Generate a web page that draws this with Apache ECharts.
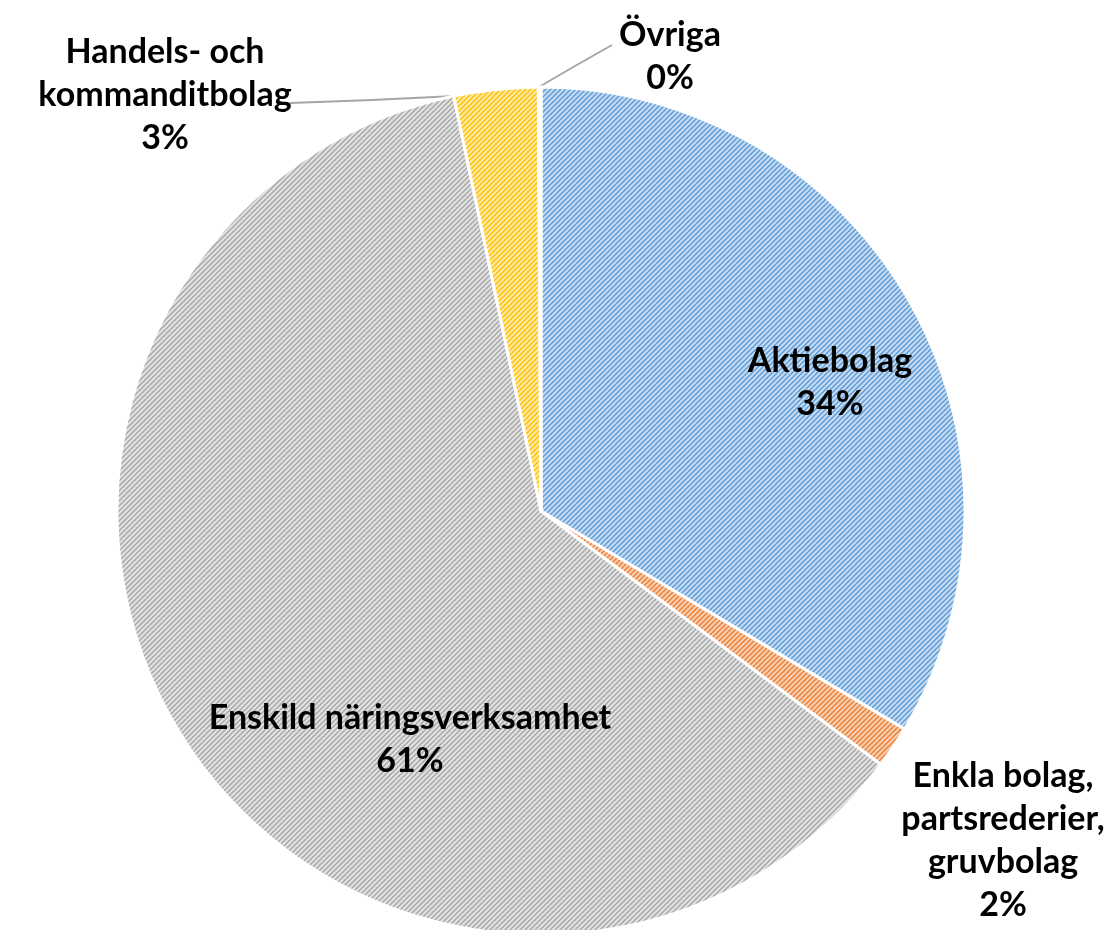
<!DOCTYPE html>
<html>
<head>
<meta charset="utf-8">
<script src="https://cdn.jsdelivr.net/npm/echarts@6/dist/echarts.min.js"></script>
<style>
  html, body { margin: 0; padding: 0; background: #fff; }
  #chart { width: 1110px; height: 930px; }
</style>
</head>
<body>
<div id="chart"></div>
<script>
  // data
  const categories = ['Aktiebolag', 'Enkla bolag,\npartsrederier,\ngruvbolag', 'Enskild näringsverksamhet', 'Handels- och\nkommanditbolag', 'Övriga'];
  const shares = [33.6, 1.6, 61.5, 3.2, 0.1];
  const shareLabels = ['34%', '2%', '61%', '3%', '0%'];
  const baseColors = ['#5b9bd5', '#ed7d31', '#a5a5a5', '#ffc000', '#4472c4'];
  const lightColors = ['#c6dbf1', '#f8cfb3', '#e2e2e2', '#ffe9a6', '#bccbeb'];

  // hatch pattern like excel "dark upward diagonal"
  function makePattern(stripe, light) {
    const size = 5;
    const c = document.createElement('canvas');
    c.width = size; c.height = size;
    const ctx = c.getContext('2d');
    ctx.fillStyle = light;
    ctx.fillRect(0, 0, size, size);
    ctx.strokeStyle = stripe;
    ctx.lineWidth = 1.4;
    ctx.beginPath();
    ctx.moveTo(-1, size + 1); ctx.lineTo(size + 1, -1);
    ctx.moveTo(-1, 1); ctx.lineTo(1, -1);
    ctx.moveTo(size - 1, size + 1); ctx.lineTo(size + 1, size - 1);
    ctx.stroke();
    return c;
  }

  // label centres (px)
  const labelPos = [
    [830, 383],
    [1003, 841],
    [410, 740],
    [165, 95],
    [670, 57]
  ];

  const chart = echarts.init(document.getElementById('chart'));
  const option = {
    animation: false,
    textStyle: { fontFamily: 'Lato' },
    series: [{
      type: 'pie',
      center: [541, 511],
      radius: 424,
      startAngle: 90,
      clockwise: true,
      itemStyle: { borderColor: '#fff', borderWidth: 3 },
      label: {
        formatter: p => p.name + '\n' + shareLabels[p.dataIndex],
        fontFamily: 'Lato',
        fontWeight: 'bold',
        fontSize: 34,
        lineHeight: 43,
        color: '#000',
        align: 'center',
        overflow: 'none'
      },
      labelLine: {
        show: true,
        length: 20,
        length2: 20,
        lineStyle: { color: '#a6a6a6', width: 2 }
      },
      labelLayout: function (params) {
        const i = params.dataIndex;
        const p = labelPos[i];
        const out = { x: p[0], y: p[1], align: 'center', verticalAlign: 'middle' };
        // straight leader lines from slice edge to label
        if (i === 3) {
          out.labelLinePoints = [[455, 96], [372, 100], [290, 103]];
        } else if (i === 4) {
          out.labelLinePoints = [[539, 87], [575, 66], [612, 45]];
        }
        return out;
      },
      data: categories.map((name, i) => {
        const showLine = (i === 3 || i === 4);
        return {
          name: name,
          value: shares[i],
          itemStyle: { color: { image: makePattern(baseColors[i], lightColors[i]), repeat: 'repeat' } },
          label: { position: (i === 0 || i === 2) ? 'inside' : 'outside' },
          labelLine: { show: showLine }
        };
      })
    }]
  };
  chart.setOption(option);
</script>
</body>
</html>
